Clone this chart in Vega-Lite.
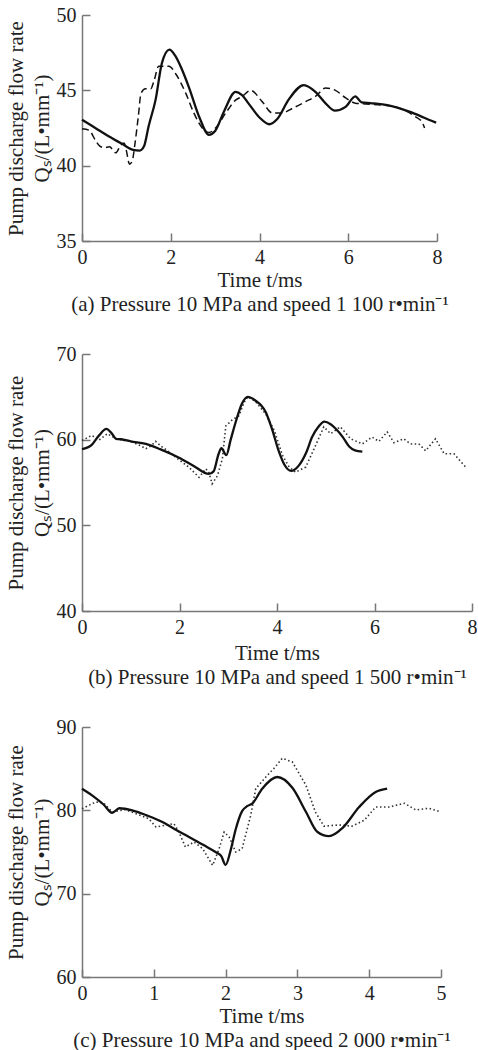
{
  "$schema": "https://vega.github.io/schema/vega-lite/v6.json",
  "background": "white",
  "padding": {"left": 5, "top": 5, "right": 0, "bottom": 5},
  "spacing": 30,
  "config": {
    "view": {"stroke": null},
    "font": "Liberation Serif",
    "axis": {
      "grid": false,
      "domainColor": "#777",
      "domainWidth": 1.5,
      "tickColor": "#777",
      "tickWidth": 1.5,
      "tickSize": -8,
      "labelFont": "Liberation Serif",
      "labelFontSize": 20,
      "labelColor": "#222",
      "labelFlush": false,
      "labelOverlap": false,
      "titleFont": "Liberation Serif",
      "titleFontSize": 21,
      "titleFontWeight": "normal",
      "titleColor": "#222",
      "titleLineHeight": 24
    },
    "axisY": {"labelPadding": 14, "titlePadding": 4, "titleLineHeight": 26}
  },
  "datasets": {
    "a": [
      {"s": "sim", "t": 0, "q": 43.05}, {"s": "sim", "t": 0.3, "q": 42.5}, {"s": "sim", "t": 0.6, "q": 41.95}, {"s": "sim", "t": 0.9, "q": 41.45}, {"s": "sim", "t": 1.15, "q": 41.05}, {"s": "sim", "t": 1.3, "q": 41.0}, {"s": "sim", "t": 1.4, "q": 41.3}, {"s": "sim", "t": 1.5, "q": 42.6}, {"s": "sim", "t": 1.66, "q": 44.4}, {"s": "sim", "t": 1.8, "q": 46.8}, {"s": "sim", "t": 1.97, "q": 47.7}, {"s": "sim", "t": 2.1, "q": 47.3}, {"s": "sim", "t": 2.25, "q": 46.4}, {"s": "sim", "t": 2.41, "q": 45.2}, {"s": "sim", "t": 2.64, "q": 43.25}, {"s": "sim", "t": 2.86, "q": 42.05}, {"s": "sim", "t": 3.0, "q": 42.3}, {"s": "sim", "t": 3.2, "q": 43.6}, {"s": "sim", "t": 3.46, "q": 44.9}, {"s": "sim", "t": 3.6, "q": 44.7}, {"s": "sim", "t": 3.76, "q": 44.1}, {"s": "sim", "t": 4.0, "q": 43.2}, {"s": "sim", "t": 4.22, "q": 42.75}, {"s": "sim", "t": 4.4, "q": 43.1}, {"s": "sim", "t": 4.66, "q": 44.4}, {"s": "sim", "t": 5.0, "q": 45.35}, {"s": "sim", "t": 5.26, "q": 44.9}, {"s": "sim", "t": 5.5, "q": 44.1}, {"s": "sim", "t": 5.7, "q": 43.65}, {"s": "sim", "t": 5.94, "q": 43.9}, {"s": "sim", "t": 6.16, "q": 44.6}, {"s": "sim", "t": 6.3, "q": 44.2}, {"s": "sim", "t": 6.5, "q": 44.15}, {"s": "sim", "t": 6.91, "q": 44.0}, {"s": "sim", "t": 7.36, "q": 43.6}, {"s": "sim", "t": 7.7, "q": 43.2}, {"s": "sim", "t": 7.98, "q": 42.85},
      {"s": "exp", "t": 0, "q": 42.45}, {"s": "exp", "t": 0.16, "q": 42.35}, {"s": "exp", "t": 0.3, "q": 41.7}, {"s": "exp", "t": 0.4, "q": 41.3}, {"s": "exp", "t": 0.5, "q": 41.2}, {"s": "exp", "t": 0.62, "q": 41.25}, {"s": "exp", "t": 0.76, "q": 40.85}, {"s": "exp", "t": 0.87, "q": 41.35}, {"s": "exp", "t": 0.95, "q": 41.5}, {"s": "exp", "t": 1.0, "q": 41.0}, {"s": "exp", "t": 1.07, "q": 40.1}, {"s": "exp", "t": 1.13, "q": 40.3}, {"s": "exp", "t": 1.2, "q": 41.6}, {"s": "exp", "t": 1.27, "q": 43.3}, {"s": "exp", "t": 1.33, "q": 44.8}, {"s": "exp", "t": 1.43, "q": 45.1}, {"s": "exp", "t": 1.55, "q": 45.1}, {"s": "exp", "t": 1.62, "q": 45.6}, {"s": "exp", "t": 1.73, "q": 46.6}, {"s": "exp", "t": 1.96, "q": 46.6}, {"s": "exp", "t": 2.11, "q": 46.1}, {"s": "exp", "t": 2.34, "q": 44.8}, {"s": "exp", "t": 2.52, "q": 43.5}, {"s": "exp", "t": 2.71, "q": 42.5}, {"s": "exp", "t": 2.86, "q": 42.2}, {"s": "exp", "t": 3.01, "q": 42.5}, {"s": "exp", "t": 3.24, "q": 43.5}, {"s": "exp", "t": 3.46, "q": 44.35}, {"s": "exp", "t": 3.61, "q": 44.6}, {"s": "exp", "t": 3.8, "q": 45.0}, {"s": "exp", "t": 4.06, "q": 44.25}, {"s": "exp", "t": 4.29, "q": 43.5}, {"s": "exp", "t": 4.51, "q": 43.5}, {"s": "exp", "t": 4.74, "q": 43.8}, {"s": "exp", "t": 5.04, "q": 44.25}, {"s": "exp", "t": 5.26, "q": 44.6}, {"s": "exp", "t": 5.49, "q": 45.15}, {"s": "exp", "t": 5.71, "q": 45.0}, {"s": "exp", "t": 5.94, "q": 44.5}, {"s": "exp", "t": 6.16, "q": 44.15}, {"s": "exp", "t": 6.39, "q": 44.1}, {"s": "exp", "t": 7.06, "q": 43.9}, {"s": "exp", "t": 7.51, "q": 43.25}, {"s": "exp", "t": 7.66, "q": 42.9}, {"s": "exp", "t": 7.72, "q": 42.5}
    ],
    "b": [
      {"s": "sim", "t": 0, "q": 58.9}, {"s": "sim", "t": 0.2, "q": 59.4}, {"s": "sim", "t": 0.35, "q": 60.5}, {"s": "sim", "t": 0.5, "q": 61.25}, {"s": "sim", "t": 0.6, "q": 60.8}, {"s": "sim", "t": 0.7, "q": 60.1}, {"s": "sim", "t": 0.8, "q": 60.05}, {"s": "sim", "t": 1.0, "q": 59.8}, {"s": "sim", "t": 1.31, "q": 59.5}, {"s": "sim", "t": 1.6, "q": 58.9}, {"s": "sim", "t": 1.99, "q": 57.9}, {"s": "sim", "t": 2.3, "q": 56.9}, {"s": "sim", "t": 2.6, "q": 56.0}, {"s": "sim", "t": 2.7, "q": 56.3}, {"s": "sim", "t": 2.8, "q": 58.3}, {"s": "sim", "t": 2.86, "q": 59.0}, {"s": "sim", "t": 2.96, "q": 58.2}, {"s": "sim", "t": 3.05, "q": 60.0}, {"s": "sim", "t": 3.15, "q": 62.0}, {"s": "sim", "t": 3.28, "q": 64.2}, {"s": "sim", "t": 3.4, "q": 65.0}, {"s": "sim", "t": 3.55, "q": 64.6}, {"s": "sim", "t": 3.77, "q": 63.2}, {"s": "sim", "t": 3.9, "q": 61.2}, {"s": "sim", "t": 4.04, "q": 58.6}, {"s": "sim", "t": 4.15, "q": 57.1}, {"s": "sim", "t": 4.29, "q": 56.35}, {"s": "sim", "t": 4.45, "q": 57.0}, {"s": "sim", "t": 4.6, "q": 58.5}, {"s": "sim", "t": 4.72, "q": 60.3}, {"s": "sim", "t": 4.85, "q": 61.5}, {"s": "sim", "t": 4.97, "q": 62.1}, {"s": "sim", "t": 5.1, "q": 61.8}, {"s": "sim", "t": 5.2, "q": 61.3}, {"s": "sim", "t": 5.35, "q": 60.3}, {"s": "sim", "t": 5.48, "q": 59.2}, {"s": "sim", "t": 5.6, "q": 58.75}, {"s": "sim", "t": 5.75, "q": 58.6},
      {"s": "exp", "t": 0, "q": 59.9}, {"s": "exp", "t": 0.2, "q": 60.5}, {"s": "exp", "t": 0.35, "q": 59.95}, {"s": "exp", "t": 0.52, "q": 60.7}, {"s": "exp", "t": 0.7, "q": 60.1}, {"s": "exp", "t": 1.0, "q": 59.8}, {"s": "exp", "t": 1.2, "q": 59.3}, {"s": "exp", "t": 1.31, "q": 58.95}, {"s": "exp", "t": 1.42, "q": 59.3}, {"s": "exp", "t": 1.51, "q": 59.8}, {"s": "exp", "t": 1.61, "q": 59.3}, {"s": "exp", "t": 1.8, "q": 58.5}, {"s": "exp", "t": 2.0, "q": 57.6}, {"s": "exp", "t": 2.19, "q": 56.8}, {"s": "exp", "t": 2.4, "q": 55.6}, {"s": "exp", "t": 2.54, "q": 56.6}, {"s": "exp", "t": 2.6, "q": 56.2}, {"s": "exp", "t": 2.67, "q": 54.85}, {"s": "exp", "t": 2.78, "q": 55.8}, {"s": "exp", "t": 2.88, "q": 57.8}, {"s": "exp", "t": 2.95, "q": 61.6}, {"s": "exp", "t": 3.08, "q": 62.3}, {"s": "exp", "t": 3.22, "q": 62.8}, {"s": "exp", "t": 3.32, "q": 64.3}, {"s": "exp", "t": 3.4, "q": 65.0}, {"s": "exp", "t": 3.55, "q": 64.5}, {"s": "exp", "t": 3.77, "q": 63.0}, {"s": "exp", "t": 3.95, "q": 61.0}, {"s": "exp", "t": 4.11, "q": 58.2}, {"s": "exp", "t": 4.25, "q": 56.8}, {"s": "exp", "t": 4.38, "q": 56.2}, {"s": "exp", "t": 4.59, "q": 56.8}, {"s": "exp", "t": 4.79, "q": 59.3}, {"s": "exp", "t": 4.96, "q": 61.5}, {"s": "exp", "t": 5.1, "q": 60.7}, {"s": "exp", "t": 5.3, "q": 61.5}, {"s": "exp", "t": 5.51, "q": 60.1}, {"s": "exp", "t": 5.75, "q": 59.5}, {"s": "exp", "t": 5.95, "q": 60.3}, {"s": "exp", "t": 6.09, "q": 59.8}, {"s": "exp", "t": 6.26, "q": 60.9}, {"s": "exp", "t": 6.4, "q": 59.65}, {"s": "exp", "t": 6.6, "q": 60.1}, {"s": "exp", "t": 6.74, "q": 59.5}, {"s": "exp", "t": 6.91, "q": 59.5}, {"s": "exp", "t": 7.05, "q": 58.7}, {"s": "exp", "t": 7.25, "q": 60.1}, {"s": "exp", "t": 7.43, "q": 58.35}, {"s": "exp", "t": 7.63, "q": 58.35}, {"s": "exp", "t": 7.87, "q": 56.8}
    ],
    "c": [
      {"s": "sim", "t": 0, "q": 82.6}, {"s": "sim", "t": 0.14, "q": 81.8}, {"s": "sim", "t": 0.3, "q": 80.7}, {"s": "sim", "t": 0.42, "q": 79.7}, {"s": "sim", "t": 0.52, "q": 80.25}, {"s": "sim", "t": 0.7, "q": 80.0}, {"s": "sim", "t": 0.9, "q": 79.4}, {"s": "sim", "t": 1.12, "q": 78.6}, {"s": "sim", "t": 1.3, "q": 77.7}, {"s": "sim", "t": 1.49, "q": 76.8}, {"s": "sim", "t": 1.7, "q": 75.8}, {"s": "sim", "t": 1.86, "q": 75.0}, {"s": "sim", "t": 1.94, "q": 74.5}, {"s": "sim", "t": 2.0, "q": 73.45}, {"s": "sim", "t": 2.07, "q": 75.2}, {"s": "sim", "t": 2.14, "q": 77.7}, {"s": "sim", "t": 2.23, "q": 79.9}, {"s": "sim", "t": 2.3, "q": 80.5}, {"s": "sim", "t": 2.37, "q": 80.8}, {"s": "sim", "t": 2.51, "q": 82.6}, {"s": "sim", "t": 2.72, "q": 84.0}, {"s": "sim", "t": 2.93, "q": 82.7}, {"s": "sim", "t": 3.12, "q": 79.8}, {"s": "sim", "t": 3.28, "q": 77.4}, {"s": "sim", "t": 3.44, "q": 76.9}, {"s": "sim", "t": 3.63, "q": 77.9}, {"s": "sim", "t": 3.86, "q": 80.4}, {"s": "sim", "t": 4.09, "q": 82.2}, {"s": "sim", "t": 4.25, "q": 82.6},
      {"s": "exp", "t": 0, "q": 80.2}, {"s": "exp", "t": 0.19, "q": 81.0}, {"s": "exp", "t": 0.3, "q": 80.9}, {"s": "exp", "t": 0.42, "q": 79.8}, {"s": "exp", "t": 0.6, "q": 80.1}, {"s": "exp", "t": 0.93, "q": 79.0}, {"s": "exp", "t": 1.03, "q": 78.0}, {"s": "exp", "t": 1.16, "q": 78.2}, {"s": "exp", "t": 1.28, "q": 78.4}, {"s": "exp", "t": 1.35, "q": 77.4}, {"s": "exp", "t": 1.44, "q": 75.6}, {"s": "exp", "t": 1.56, "q": 76.2}, {"s": "exp", "t": 1.68, "q": 75.4}, {"s": "exp", "t": 1.82, "q": 73.4}, {"s": "exp", "t": 1.91, "q": 75.4}, {"s": "exp", "t": 1.98, "q": 77.4}, {"s": "exp", "t": 2.05, "q": 76.8}, {"s": "exp", "t": 2.14, "q": 75.0}, {"s": "exp", "t": 2.23, "q": 75.4}, {"s": "exp", "t": 2.35, "q": 79.4}, {"s": "exp", "t": 2.42, "q": 82.6}, {"s": "exp", "t": 2.56, "q": 84.0}, {"s": "exp", "t": 2.67, "q": 85.0}, {"s": "exp", "t": 2.79, "q": 86.25}, {"s": "exp", "t": 2.93, "q": 85.8}, {"s": "exp", "t": 3.12, "q": 83.0}, {"s": "exp", "t": 3.25, "q": 79.8}, {"s": "exp", "t": 3.37, "q": 78.1}, {"s": "exp", "t": 3.58, "q": 78.25}, {"s": "exp", "t": 3.76, "q": 78.1}, {"s": "exp", "t": 3.93, "q": 78.8}, {"s": "exp", "t": 4.09, "q": 80.4}, {"s": "exp", "t": 4.28, "q": 80.4}, {"s": "exp", "t": 4.49, "q": 80.85}, {"s": "exp", "t": 4.65, "q": 80.05}, {"s": "exp", "t": 4.83, "q": 80.25}, {"s": "exp", "t": 5.0, "q": 79.8}
    ]
  },
  "vconcat": [
    {
      "width": 355, "height": 226,
      "data": {"name": "a"},
      "encoding": {
        "x": {"field": "t", "type": "quantitative", "scale": {"domain": [0, 8], "nice": false},
              "axis": {"values": [0, 2, 4, 6, 8], "title": ["Time t/ms", "(a) Pressure 10 MPa and speed 1 100 r\u2022min\u207b\u00b9"], "labelPadding": 14, "titlePadding": 2}},
        "y": {"field": "q", "type": "quantitative", "scale": {"domain": [35, 50], "nice": false, "zero": false},
              "axis": {"values": [35, 40, 45, 50], "title": ["Pump discharge flow rate", "Q\u209b/(L\u2022mm\u207b\u00b9)"]}}
      },
      "layer": [
        {"transform": [{"filter": "datum.s === 'exp'"}], "mark": {"type": "line", "color": "#111", "strokeWidth": 1.5, "strokeDash": [7, 4], "interpolate": "monotone"}},
        {"transform": [{"filter": "datum.s === 'sim'"}], "mark": {"type": "line", "color": "#111", "strokeWidth": 2.3, "interpolate": "monotone"}}
      ]
    },
    {
      "width": 390, "height": 257,
      "data": {"name": "b"},
      "encoding": {
        "x": {"field": "t", "type": "quantitative", "scale": {"domain": [0, 8], "nice": false},
              "axis": {"values": [0, 2, 4, 6, 8], "title": ["Time t/ms", "(b) Pressure 10 MPa and speed 1 500 r\u2022min\u207b\u00b9"], "labelPadding": 14, "titlePadding": 5}},
        "y": {"field": "q", "type": "quantitative", "scale": {"domain": [40, 70], "nice": false, "zero": false},
              "axis": {"values": [40, 50, 60, 70], "title": ["Pump discharge flow rate", "Q\u209b/(L\u2022mm\u207b\u00b9)"]}}
      },
      "layer": [
        {"transform": [{"filter": "datum.s === 'exp'"}], "mark": {"type": "line", "color": "#333", "strokeWidth": 1.6, "strokeDash": [1.5, 2.5]}},
        {"transform": [{"filter": "datum.s === 'sim'"}], "mark": {"type": "line", "color": "#111", "strokeWidth": 2.3, "interpolate": "monotone"}}
      ]
    },
    {
      "width": 359, "height": 250,
      "data": {"name": "c"},
      "encoding": {
        "x": {"field": "t", "type": "quantitative", "scale": {"domain": [0, 5], "nice": false},
              "axis": {"values": [0, 1, 2, 3, 4, 5], "title": ["Time t/ms", "(c) Pressure 10 MPa and speed 2 000 r\u2022min\u207b\u00b9"], "labelPadding": 14, "titlePadding": 2}},
        "y": {"field": "q", "type": "quantitative", "scale": {"domain": [60, 90], "nice": false, "zero": false},
              "axis": {"values": [60, 70, 80, 90], "title": ["Pump discharge flow rate", "Q\u209b/(L\u2022mm\u207b\u00b9)"]}}
      },
      "layer": [
        {"transform": [{"filter": "datum.s === 'exp'"}], "mark": {"type": "line", "color": "#333", "strokeWidth": 1.6, "strokeDash": [1.5, 2.5]}},
        {"transform": [{"filter": "datum.s === 'sim'"}], "mark": {"type": "line", "color": "#111", "strokeWidth": 2.3, "interpolate": "monotone"}}
      ]
    }
  ]
}
